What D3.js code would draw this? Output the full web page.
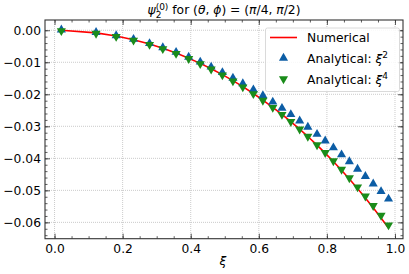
<!DOCTYPE html>
<html>
<head>
<meta charset="utf-8">
<script src="https://d3js.org/d3.v7.min.js"></script>
<style>
  body { margin: 0; background: #fff; }
  svg text { font-family: "DejaVu Sans", sans-serif; fill: #000; }
</style>
</head>
<body>
<svg width="409" height="274"></svg>
<script>
// data
var xi = [0.020, 0.122, 0.181, 0.232, 0.279, 0.318, 0.357, 0.394, 0.428, 0.460,
          0.493, 0.524, 0.553, 0.584, 0.612, 0.641, 0.668, 0.694, 0.720, 0.744,
          0.771, 0.795, 0.819, 0.843, 0.866, 0.890, 0.913, 0.936, 0.959, 0.981];

var numerical = [-0.00002, -0.00082, -0.00181, -0.00298, -0.00432, -0.00564, -0.00714, -0.00873, -0.01034, -0.01201,
                 -0.01386, -0.01573, -0.01761, -0.01976, -0.02181, -0.02407, -0.02630, -0.02854, -0.03091, -0.03319,
                 -0.03589, -0.03839, -0.04101, -0.04374, -0.04646, -0.04942, -0.05237, -0.05543, -0.05861, -0.06177];

var analytic2 = [-0.00002, -0.00082, -0.00180, -0.00295, -0.00427, -0.00555, -0.00700, -0.00852, -0.01006, -0.01162,
                 -0.01334, -0.01507, -0.01679, -0.01872, -0.02056, -0.02256, -0.02450, -0.02644, -0.02846, -0.03039,
                 -0.03263, -0.03470, -0.03682, -0.03901, -0.04117, -0.04349, -0.04576, -0.04810, -0.05049, -0.05283];

var analytic4 = [-0.00002, -0.00082, -0.00181, -0.00298, -0.00432, -0.00564, -0.00714, -0.00873, -0.01034, -0.01200,
                 -0.01384, -0.01571, -0.01758, -0.01971, -0.02175, -0.02399, -0.02619, -0.02841, -0.03074, -0.03299,
                 -0.03564, -0.03809, -0.04065, -0.04331, -0.04595, -0.04882, -0.05167, -0.05462, -0.05768, -0.06070];

var xTicks = [0, 0.2, 0.4, 0.6, 0.8, 1.0];
var yTicks = [0, -0.01, -0.02, -0.03, -0.04, -0.05, -0.06];

var svg = d3.select("svg");
var mLeft = 45, mRight = 403, mTop = 20, mBottom = 238.7;
var fs = "12.3px";

var x = d3.scaleLinear().domain([-0.028, 1.0235]).range([mLeft, mRight]);
var y = d3.scaleLinear().domain([-0.0651, 0.0032]).range([mBottom, mTop]);

var axisColor = "#333";

// grid
var grid = svg.append("g");
grid.selectAll(".gx").data(xTicks).enter().append("line")
    .attr("x1", function (d) { return x(d); }).attr("x2", function (d) { return x(d); })
    .attr("y1", mTop).attr("y2", mBottom)
    .style("stroke", "#b5b5b5").style("stroke-width", 0.7).style("stroke-dasharray", "1,1");
grid.selectAll(".gy").data(yTicks).enter().append("line")
    .attr("y1", function (d) { return y(d); }).attr("y2", function (d) { return y(d); })
    .attr("x1", mLeft).attr("x2", mRight)
    .style("stroke", "#b5b5b5").style("stroke-width", 0.7).style("stroke-dasharray", "1,1");

// axes, ticks inward on all four sides
function fmtX(d) { return d3.format(".1f")(d); }
function fmtY(d) { return d3.format(".2f")(d).replace("-", "\u2212"); }

var xMinor = d3.range(0, 21).map(function (i) { return i * 0.05; });
var yMinor = d3.range(0, 33).map(function (i) { return -i * 0.002; });

svg.append("g").attr("transform", "translate(0," + mBottom + ")")
    .call(d3.axisBottom(x).tickValues(xMinor).tickSize(-2.5).tickFormat(""));
svg.append("g").attr("transform", "translate(0," + mBottom + ")")
    .call(d3.axisBottom(x).tickValues(xTicks).tickSize(-5).tickPadding(6).tickFormat(fmtX));
svg.append("g").attr("transform", "translate(0," + mTop + ")")
    .call(d3.axisTop(x).tickValues(xMinor).tickSize(-2.5).tickFormat(""));
svg.append("g").attr("transform", "translate(0," + mTop + ")")
    .call(d3.axisTop(x).tickValues(xTicks).tickSize(-5).tickFormat(""));

svg.append("g").attr("transform", "translate(" + mLeft + ",0)")
    .call(d3.axisLeft(y).tickValues(yMinor).tickSize(-2.5).tickFormat(""));
svg.append("g").attr("transform", "translate(" + mLeft + ",0)")
    .call(d3.axisLeft(y).tickValues(yTicks).tickSize(-5).tickPadding(4).tickFormat(fmtY));
svg.append("g").attr("transform", "translate(" + mRight + ",0)")
    .call(d3.axisRight(y).tickValues(yMinor).tickSize(-2.5).tickFormat(""));
svg.append("g").attr("transform", "translate(" + mRight + ",0)")
    .call(d3.axisRight(y).tickValues(yTicks).tickSize(-5).tickFormat(""));

svg.selectAll(".domain").remove();
svg.selectAll(".tick line").style("stroke", axisColor).style("stroke-width", 0.8);
svg.selectAll(".tick text").style("font-size", fs).style("font-family", "DejaVu Sans");

svg.append("rect")
    .attr("x", mLeft).attr("y", mTop)
    .attr("width", mRight - mLeft).attr("height", mBottom - mTop)
    .style("fill", "none").style("stroke", axisColor).style("stroke-width", 1.1);

// numerical line
var line = d3.line()
    .x(function (d, i) { return x(xi[i]); })
    .y(function (d) { return y(d); });

svg.append("path")
    .datum(numerical)
    .attr("d", line)
    .style("fill", "none")
    .style("stroke", "#ff0000")
    .style("stroke-width", 1.6);

// markers
var tri = d3.symbol().type(d3.symbolTriangle).size(36);

svg.selectAll(".m2").data(analytic2).enter().append("path")
    .attr("d", tri)
    .attr("transform", function (d, i) { return "translate(" + x(xi[i]) + "," + (y(d) - 0.5) + ")"; })
    .style("fill", "#0C5DA5");

svg.selectAll(".m4").data(analytic4).enter().append("path")
    .attr("d", tri)
    .attr("transform", function (d, i) { return "translate(" + x(xi[i]) + "," + (y(d) + 0.5) + ") rotate(180)"; })
    .style("fill", "#1a8c1a");

// legend
var lg = svg.append("g");
lg.append("rect")
    .attr("x", 265.5).attr("y", 28).attr("width", 134).attr("height", 63.5).attr("rx", 2)
    .style("fill", "#fff").style("fill-opacity", 0.85)
    .style("stroke", "#d0d0d0").style("stroke-width", 0.8);
lg.append("line").attr("x1", 270).attr("x2", 297).attr("y1", 37.5).attr("y2", 37.5)
    .style("stroke", "#ff0000").style("stroke-width", 1.6);
lg.append("path").attr("d", tri).attr("transform", "translate(283.5,58)").style("fill", "#0C5DA5");
lg.append("path").attr("d", tri).attr("transform", "translate(283.5,79) rotate(180)").style("fill", "#1a8c1a");

var legendLabels = ["Numerical", "Analytical: ", "Analytical: "];
var legendPow = ["", "2", "4"];
legendLabels.forEach(function (lab, i) {
    var t = lg.append("text").attr("x", 307).attr("y", 42 + i * 21).style("font-size", fs);
    t.append("tspan").text(lab);
    if (legendPow[i]) {
        t.append("tspan").style("font-style", "italic").text("\u03be");
        t.append("tspan").attr("dy", -5).style("font-size", "9px").text(legendPow[i]);
    }
});

// x label
svg.append("text").attr("x", (mLeft + mRight) / 2 - 1).attr("y", 265)
    .attr("text-anchor", "middle").style("font-size", fs).style("font-style", "italic")
    .text("\u03be");

// title
var title = svg.append("g");
var tt = title.append("text").attr("y", 14).style("font-size", fs);
tt.append("tspan").style("font-style", "italic").text("\u03c8");
tt.append("tspan").attr("dy", -4.5).style("font-size", "9px").text("(0)");
tt.append("tspan").attr("dy", 4.5).text(" for (");
tt.append("tspan").style("font-style", "italic").text("\u03b8");
tt.append("tspan").text(", ");
tt.append("tspan").style("font-style", "italic").text("\u03d5");
tt.append("tspan").text(") = (");
tt.append("tspan").style("font-style", "italic").text("\u03c0");
tt.append("tspan").text("/4, ");
tt.append("tspan").style("font-style", "italic").text("\u03c0");
tt.append("tspan").text("/2)");

var w = tt.node().getComputedTextLength();
var x0 = (mLeft + mRight) / 2 - w / 2;
tt.attr("x", x0);
var psiW = tt.node().getSubStringLength(0, 1);
title.append("text").attr("x", x0 + psiW).attr("y", 18).style("font-size", "9px").text("2");
</script>
</body>
</html>
